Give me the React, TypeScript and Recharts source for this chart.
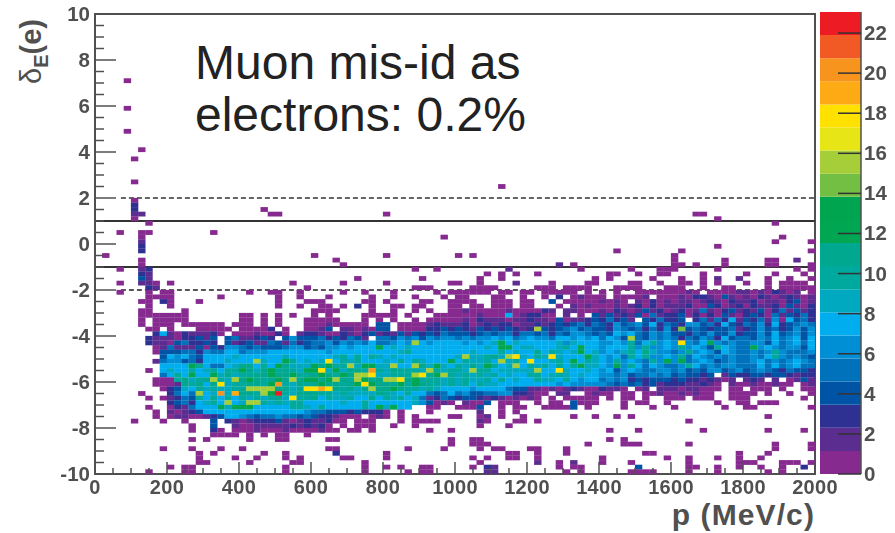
import { Bar, BarChart, ReferenceArea, ReferenceLine, Scatter, ScatterChart, XAxis, YAxis } from "recharts";

const FONT = "'Liberation Sans', Arial, sans-serif";
const AXIS_GREY = "#505050";

const Z_TICKS = [0, 2, 4, 6, 8, 10, 12, 14, 16, 18, 20, 22];
const Z_MAX = 23.05;

// one colour per z band, bottom of the palette first
const BAND_COLORS = [
  "#862a90", "#5c2d91", "#2e3192", "#0054a6", "#0072bc",
  "#008fd5", "#00aeef", "#00a9c0", "#00a99d", "#00a88f",
  "#00a651", "#00a54f", "#72bf44", "#a6ce39", "#e8e516",
  "#ffe100", "#fdaa14", "#f7941d", "#f15a24", "#ed1c24",
];

// isolated bins high above the band: [p, delta, count]
const HIGH_BINS = [
  [90, 7.1, 1], [90, 5.9, 1], [90, 4.9, 1], [130, 4.1, 1],
  [110, 3.7, 1], [110, 2.7, 1], [1130, 2.5, 1],
];

// bin counts, 20 MeV/c wide and 0.2 tall. Top row is delta = 2 .. 1.8, last row is -10 .. -9.8.
// Ten groups of ten bins per row, base 36, "." empty, "-" a fully empty group.
const COUNT_ROWS = [
  ".....1",
  ".....3",
  ".....3.... - ...1......",
  ".....22... - ....11.... - 1......... - - - ...11.....",
  ".....1.... - - - - - - - ......1...",
  ".......1.. - - - - - - - - ....1.....",
  "-",
  "...1..11.. ......1...",
  "......1... - - - ........1. - - - - .....1....",
  "......2... - - - - - - - - ....1....1",
  "......3... - - - - - - - ......1...",
  "......3... - - - - - - ..1....... .1........ .........1",
  ".1........ - - 1......... 1......... 1.1....... - - 1.........",
  "......1... - - ...1...... - - - - 1......1.. ...11..2..",
  "......1... - - ....1..... - - ....2.1... - 11.1...1.. ...11....1",
  "...1..23.. - - - ....1..1.. .......2.. .......1.. ....1...11 1.....1... .......1.1",
  "......32.. - - - - ....1.1.1. .1........ .11..1..11 ....1..... 1...1...1.",
  "......42.. - - ......1... .....1.... ...1..1... .........1 .1.....1.. .1..1.2..2 ...1..1..1",
  "...1..221. 1......... .......1.. ....1..... 1........1 1..1....2. ...1....11 ....11..1. .11.1.1... 1..1.1111.",
  ".......32. - .........1 - ....111... ..1111.... .111.1111. ..1111...1 11..1..11. ...1.11111",
  "...1...1.1 1......... .1..11..1. ....1..1.. .1.....1.1 11111.11.1 1.11111.1. 1.1..11111 1121.11112 21213212.1",
  ".......111 1......1.. .....1..1. ..1.....1. .1..1...1. 11...11..1 ..1.3.1211 1.11112.11 1213321421 2132123212",
  "......11.3 1...1..... .....1...1 11.....11. 1....11..1 111..111.1 1..4.11111 2121.21312 1221232132 2312213412",
  ".......1.. 1......... .....1..1. .11.1.3.1. .11.11...1 1.11.111.1 1...1.2121 1121231312 2231143123 1322314213",
  "......11.. ..1....... - 1111....1. .1..1.1..1 1211111211 1132.22111 2132124231 2312521342 3241352423",
  "......1111 111....... 11.1.1.1.. 1.1....111 11.1...111 1112111712 3311.2.1.4 2423241523 3413131421 3431524353",
  "......1.11 111....... 11.1.1...1 1111...1.1 .1..1.1111 1213222122 3221412234 35342.4353 34.3525372 4352617453",
  "......1.11 1.111111.1 11.1.1...1 11211111.4 4.11112322 2312323312 2323434535 4364564735 4366453743 5463734565",
  ".......11. 1...11111. 11113.1..1 124.221214 4.11113343 4324343432 3f43456454 4365453536 3e45434452 3464534646",
  "........37 21322231.1 1121131.23 3211321342 3242434354 4434545535 5453546654 5476854656 4435464463 4464745646",
  ".......322 2133424.45 22343.4644 45343542.5 5465646566 5656676756 7665776767 5764f54656 5354653745 5465756747",
  ".......322 1453343.42 3422542534 5564656575 5676f86778 767679c797 7887969878 6686a57a67 6i657c6565 5664756757",
  "........12 5222414366 5454445664 546676787c 8979878878 788797cc79 98789a8c88 6877a6a667 6a6864a765 5c68656647",
  "........14 4455365577 5666877787 7768778878 879a878878 889787a898 8a8a989c89 6769a8b966 56b6864765 5656a65556",
  ".........4 7675478779 8788879888 8789a8a7a9 8978887788 9f99ab9fi9 8a9i9887c9 8685a7a668 6a57656565 5657a65654",
  "........25 6645387798 88f987ca89 89i8a9a788 97a7a9878c 8a99a8f9a7 i889a7c8a9 76a6765a6c 6c56764565 5675656865",
  ".........8 878cb75589 bb8a8cb999 cbcaaf9cc9 9f87fb9c98 a9b9ca89f8 a9a8a8ac99 86c6a75865 56a7565665 5575756755",
  ".......1.8 988a89a7aa cb9bcaba9c ci9c9bbaka 9baaa9fa9a a9faa79999 9f88i98798 6746765566 5645466456 4565435443",
  ".........5 8a7c88c9b9 aabbcbbcaa bcbacbffi9 9aaafibcfa 9a9a9a8987 aa89a98987 6656455656 454434.243 3443443233",
  "........11 1ab9abfa9f bcbabcbfbc cbcfbafcbb ffibcaaa9a 9a99a8a897 8a998a7687 5656343444 343323212. 232.2.1242",
  "........11 12bab8bi9a abbacka9ba bcbbabcicb bbcacbaa9a 9a8a998887 7887676666 6545453423 3322321.21 1211211.12",
  ".........1 3498a9a99a affffbb9ai ijibab9bfb bcbaa9a988 7867878544 2212123211 3221.12.22 2122111.11 .111.1..11",
  "......1... 3575f89k9j bbafcma9bb baa9a9999b a98a875457 5644556633 211.22..12 11.11.1121 121211..11 11.1..1..1",
  ".......1.1 2354a8a8a8 a9a9ab9iaa b8a99a88b8 a9a7952354 3443232121 21.1.11111 .1.11.1..1 11.111..11 1.......1.",
  "- 345379a8f8 9ffa9a9aa8 8887988a87 8778964121 .2114.111. .1.11.4111 ...1.11..1 ......1..1 1.111.....",
  ".......1.. 1325888c9c cc88878aa9 8a88887a8c 9c87..11.. 1114..1.11 ..11114.1. ...1...1.. 1......1.. 11.......1",
  "........1. 2123478787 8887888786 5544434333 1.1...1... ...2..1.1.",
  "........1. 1221123477 6545565545 4332111.12 1.1.1....1 1..12.1..1 ......1..1 ..1.1..... - ...1......",
  ".....1...1 ..1...4.32 1233342123 22311.111. ..1.1111.. ...21...11 .1........ - ..1.......",
  "- ...1..4..2 1122222323 231.1.111. .1..1..... ...1...1..",
  "- ...1..31.1 1121112111 1211.11.1. ......1..1 - - .1...1.... ....1..... ...1....1.",
  "- ......1111 .1.1.11..1",
  "- ...1.1.... .1...11... ..11...... .........1 ..11...... - .1.1......",
  "- - - - .........1 ..111..... ........1. ...111.... ..1....... ....1....1",
  ".........1 ...1...1.. 1......... ..11...... ...1....1. ...1.11... 11...1.... - - ....1....1",
  "- ....1.1... ...1..1... ...3...... 1......... .......11. .1...1.... ......11.. .........1 ...1......",
  "- ....1....1 ..1...1.1. ....11.... 1......... ..1.1..11. .1........ 1........1 ..1...1..1 ..1.......",
  "- ....11.... .1.....11. .......1.. - ...1...... .2..1.2... 1...1..... ..1......1 11...111.1",
  "- 1.11...... ......1... .......1.. 1.1..11... ..1.32.... ....1.11.. .....4.... ..11..1..1 ..1..1..3.",
  ".......1.. ..11...... ......1... .......1.. ...1.11... ....22.... .....1.1.. ....1111.. ..1...1... ...1.1....",
];

type Bin = { p: number; delta: number; count: number };

const bins: Bin[] = HIGH_BINS.map(([p, delta, count]) => ({ p, delta, count }));
COUNT_ROWS.forEach((row, r) => {
  row.split(" ").forEach((group, g) => {
    if (group === "-") return;
    group.split("").forEach((ch, i) => {
      if (ch === ".") return;
      bins.push({
        p: (g * 10 + i) * 20 + 10,
        delta: 1.9 - r * 0.2,
        count: parseInt(ch, 36),
      });
    });
  });
});

function bandColor(count: number) {
  const band = Math.floor(count / (Z_MAX / BAND_COLORS.length));
  return BAND_COLORS[Math.min(band, BAND_COLORS.length - 1)];
}

function BinRect({ cx, cy, payload }: any) {
  return (
    <rect x={cx - 3.7} y={cy - 2.4} width={7.4} height={4.8} fill={bandColor(payload.count)} />
  );
}

function PTick({ x, y, payload }: any) {
  const major = payload.value % 200 === 0;
  return (
    <g>
      <line x1={x} x2={x} y1={y} y2={y - (major ? 12 : 6)} stroke={AXIS_GREY} strokeWidth={1.5} />
      {major && (
        <text x={x} y={y + 20} textAnchor="middle" fontFamily={FONT} fontWeight="bold" fontSize={20} letterSpacing={0.3} fill={AXIS_GREY}>
          {payload.value}
        </text>
      )}
    </g>
  );
}

function DeltaTick({ x, y, payload }: any) {
  const major = Number.isInteger(payload.value / 2);
  return (
    <g>
      <line x1={x} x2={x + (major ? 21 : 9)} y1={y} y2={y} stroke={AXIS_GREY} strokeWidth={1.5} />
      {major && (
        <text x={x - 5} y={y + 7} textAnchor="end" fontFamily={FONT} fontWeight="bold" fontSize={20.5} fill={AXIS_GREY}>
          {payload.value}
        </text>
      )}
    </g>
  );
}

function ZTick({ x, y, payload }: any) {
  return (
    <g>
      <line x1={x} x2={x - 23} y1={y} y2={y} stroke="#333" strokeWidth={1.5} />
      <text x={x + 3} y={y + 7} fontFamily={FONT} fontWeight="bold" fontSize={20.5} fill={AXIS_GREY}>
        {payload.value}
      </text>
    </g>
  );
}

const pTicks: number[] = [];
for (let i = 0; i <= 40; i++) pTicks.push(i * 50);
const deltaTicks: number[] = [];
for (let i = 0; i <= 40; i++) deltaTicks.push(-10 + i * 0.5);

const zRow: Record<string, number | string> = { name: "z" };
BAND_COLORS.forEach((_, i) => {
  zRow["b" + i] = Z_MAX / BAND_COLORS.length;
});

export default function App() {
  return (
    <div style={{ position: "absolute", left: 0, top: 0, width: 895, height: 533, background: "#fff", overflow: "hidden" }}>
      <div style={{ position: "absolute", left: 0, top: 0, filter: "blur(0.45px)" }}>
        <ScatterChart width={895} height={533} margin={{ top: 14, right: 80, bottom: 29, left: 45 }}>
          <XAxis
            type="number"
            dataKey="p"
            domain={[0, 2000]}
            ticks={pTicks}
            interval={0}
            height={30}
            tick={<PTick />}
            tickSize={0}
            tickMargin={0}
            axisLine={false}
            tickLine={false}
          />
          <YAxis
            type="number"
            dataKey="delta"
            domain={[-10, 10]}
            ticks={deltaTicks}
            interval={0}
            width={50}
            tick={<DeltaTick />}
            tickSize={0}
            tickMargin={0}
            axisLine={false}
            tickLine={false}
          />
          <Scatter data={bins} shape={<BinRect />} isAnimationActive={false} />
          <ReferenceLine y={1} stroke="#333" strokeWidth={2} />
          <ReferenceLine y={-1} stroke="#333" strokeWidth={2} />
          <ReferenceLine segment={[{ x: 72, y: 2 }, { x: 2000, y: 2 }]} stroke="#333" strokeWidth={1.5} strokeDasharray="5 3" />
          <ReferenceLine segment={[{ x: 72, y: -2 }, { x: 2000, y: -2 }]} stroke="#222" strokeWidth={1.5} strokeDasharray="5 3" />
          <ReferenceArea x1={0} x2={2000} y1={-10} y2={10} fill="none" stroke={AXIS_GREY} strokeWidth={2} />
        </ScatterChart>
      </div>

      <div style={{ position: "absolute", left: 820, top: 0, filter: "blur(0.45px)" }}>
        <BarChart width={75} height={533} data={[zRow]} margin={{ top: 12, right: 0, bottom: 59, left: 0 }} barCategoryGap={0}>
          <XAxis dataKey="name" hide />
          <YAxis
            orientation="right"
            type="number"
            domain={[0, Z_MAX]}
            ticks={Z_TICKS}
            interval={0}
            width={34}
            tick={<ZTick />}
            tickSize={0}
            tickMargin={0}
            axisLine={{ stroke: AXIS_GREY, strokeWidth: 1.5 }}
            tickLine={false}
          />
          {BAND_COLORS.map((color, i) => (
            <Bar key={color + i} dataKey={"b" + i} stackId="z" fill={color} isAnimationActive={false} />
          ))}
        </BarChart>
      </div>

      <div style={{ position: "absolute", left: 195, top: 37, fontFamily: FONT, fontSize: 48, lineHeight: "52px", color: "#222" }}>
        Muon mis-id as
        <br />
        electrons: 0.2%
      </div>
      <div style={{ position: "absolute", right: 80, top: 503, fontFamily: FONT, fontWeight: "bold", fontSize: 30, letterSpacing: 1.1, lineHeight: "24px", color: AXIS_GREY, whiteSpace: "nowrap" }}>
        p (MeV/c)
      </div>
      <div
        style={{
          position: "absolute",
          left: 14,
          top: 84,
          transform: "rotate(-90deg)",
          transformOrigin: "0 0",
          fontFamily: FONT,
          fontWeight: "bold",
          fontSize: 29,
          lineHeight: "34px",
          color: AXIS_GREY,
          whiteSpace: "nowrap",
        }}
      >
        <span style={{ fontWeight: "normal" }}>δ</span>
        <sub style={{ fontSize: 20, lineHeight: 0 }}>E</sub>(e)
      </div>
    </div>
  );
}
